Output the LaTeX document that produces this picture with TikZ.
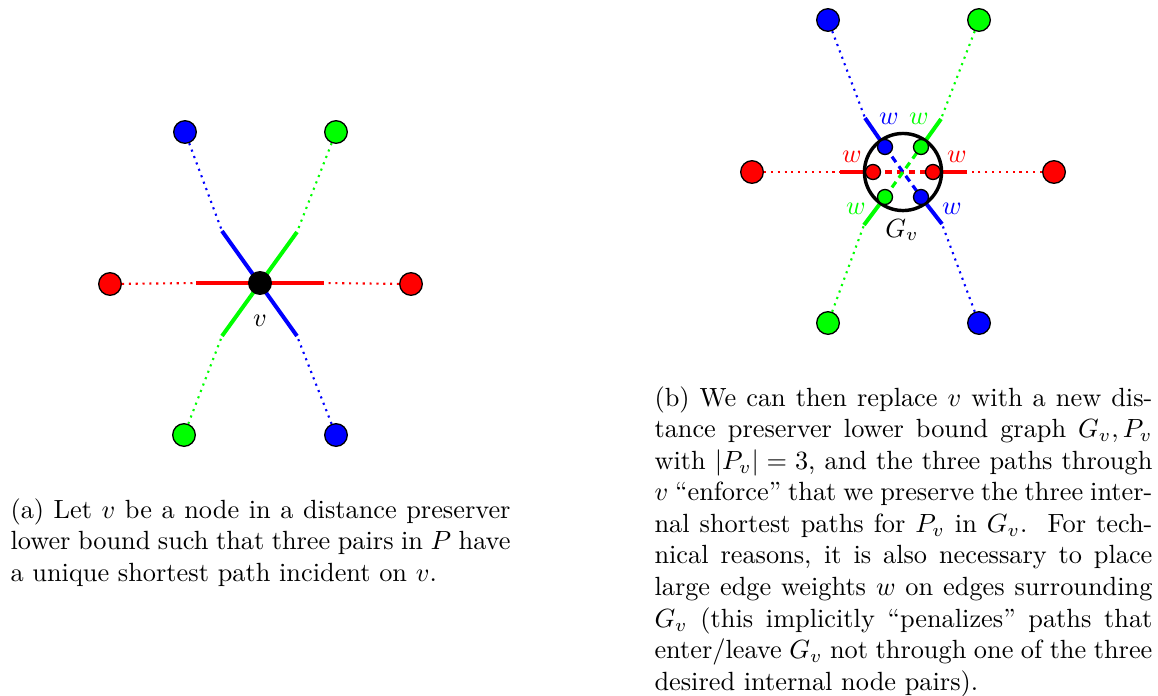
\documentclass[tikz,border=0pt]{standalone}
\usepackage{tikz}
\newlength\capwa
\newlength\capwb
\setlength\capwa{190pt}
\setlength\capwb{189.2pt}
\newcommand\jlinea[1]{\hbox to \capwa{#1}}
\newcommand\jlineb[1]{\hbox to \capwb{#1}}
\begin{document}
\begin{tikzpicture}[x=0.38pt,y=-0.38pt,
  pnode/.style={circle,draw=black,line width=0.5pt,minimum size=8.6pt,inner sep=0pt},
  inode/.style={circle,draw=black,line width=0.5pt,minimum size=5.7pt,inner sep=0pt},
  seg/.style={line width=1.5pt},
  dots/.style={line width=0.8pt,dash pattern=on 0.8pt off 1.8pt},
  dsh/.style={line width=1.2pt,dash pattern=on 2.6pt off 1.9pt},
  lbl/.style={inner sep=0pt,font=\normalsize},
  captext/.style={anchor=base west,inner sep=0pt,font=\normalsize}]
\useasboundingbox (0,0) rectangle (1158,695);

% ---------- (a) ----------
\coordinate (vc) at (260,283);
\coordinate (ar1) at (196,283);
\coordinate (ar2) at (324,283);
\coordinate (ab1) at (222,231);
\coordinate (ab2) at (297,336);
\coordinate (ag1) at (297,232);
\coordinate (ag2) at (222,336);
\node[pnode,fill=red]   (aRL) at (110,284) {};
\node[pnode,fill=red]   (aRR) at (411,284) {};
\node[pnode,fill=blue]  (aBT) at (185,132) {};
\node[pnode,fill=green] (aGT) at (336,132) {};
\node[pnode,fill=green] (aGB) at (184,435) {};
\node[pnode,fill=blue]  (aBB) at (336,435) {};
\draw[seg,red]   (ar1) -- (ar2);
\draw[seg,blue]  (ab1) -- (ab2);
\draw[seg,green] (ag1) -- (ag2);
\draw[dots,red]   (aRL) -- (ar1);
\draw[dots,red]   (aRR) -- (ar2);
\draw[dots,blue]  (aBT) -- (ab1);
\draw[dots,blue]  (aBB) -- (ab2);
\draw[dots,green] (aGT) -- (ag1);
\draw[dots,green] (aGB) -- (ag2);
\node[pnode,fill=black] (v) at (vc) {};
\node[lbl] (vl) at (260,321) {$v$};

% ---------- (b) ----------
\coordinate (c) at (903,172);
\coordinate (br1) at (840,172);
\coordinate (br2) at (967,172);
\coordinate (bb1) at (865,118);
\coordinate (bb2) at (942,224);
\coordinate (bg1) at (941,119);
\coordinate (bg2) at (864,225);
\node[pnode,fill=blue]  (bBT) at (828,20) {};
\node[pnode,fill=green] (bGT) at (979,20) {};
\node[pnode,fill=red]   (bRL) at (752,172) {};
\node[pnode,fill=red]   (bRR) at (1054,172) {};
\node[pnode,fill=green] (bGB) at (828,323) {};
\node[pnode,fill=blue]  (bBB) at (979,323) {};
\coordinate (iRL) at (873,172);
\coordinate (iRR) at (933,172);
\coordinate (iBT) at (885,147);
\coordinate (iGT) at (921,147);
\coordinate (iGB) at (885,197);
\coordinate (iBB) at (921,197);
\draw[dots,red]   (bRL) -- (br1);
\draw[dots,red]   (bRR) -- (br2);
\draw[dots,blue]  (bBT) -- (bb1);
\draw[dots,blue]  (bBB) -- (bb2);
\draw[dots,green] (bGT) -- (bg1);
\draw[dots,green] (bGB) -- (bg2);
\draw[seg,red]   (br1) -- (iRL);
\draw[seg,red]   (br2) -- (iRR);
\draw[seg,blue]  (bb1) -- (iBT);
\draw[seg,blue]  (bb2) -- (iBB);
\draw[seg,green] (bg1) -- (iGT);
\draw[seg,green] (bg2) -- (iGB);
\node[circle,draw=black,line width=1.3pt,minimum size=29.3pt,inner sep=0pt] (G) at (c) {};
\draw[dsh,red]   (iRL) -- (iRR);
\draw[dsh,blue]  (iBT) -- (iBB);
\draw[dsh,green] (iGB) -- (iGT);
\node[inode,fill=red]   (nRL) at (iRL) {};
\node[inode,fill=red]   (nRR) at (iRR) {};
\node[inode,fill=blue]  (nBT) at (iBT) {};
\node[inode,fill=green] (nGT) at (iGT) {};
\node[inode,fill=green] (nGB) at (iGB) {};
\node[inode,fill=blue]  (nBB) at (iBB) {};
\node[lbl,text=blue]  (w1) at (889,119) {$w$};
\node[lbl,text=green] (w2) at (919,119) {$w$};
\node[lbl,text=red]   (w3) at (852,157) {$w$};
\node[lbl,text=red]   (w4) at (957,157) {$w$};
\node[lbl,text=green] (w5) at (856,209) {$w$};
\node[lbl,text=blue]  (w6) at (952,209) {$w$};
\node[lbl] (Gv) at (902,230) {$G_v$};

% ---------- captions ----------
\node[captext] (capa) at (10,518) {\parbox[t]{\capwa}{%
\jlinea{(a) Let $v$ be a node in a distance preserver}
\jlinea{lower bound such that three pairs in $P$ have}
\hbox{a unique shortest path incident on $v$.}}};
\node[captext] (capb) at (654,406) {\parbox[t]{\capwb}{%
\jlineb{(b) We can then replace $v$ with a new dis-}
\jlineb{tance preserver lower bound graph $G_v, P_v$}
\jlineb{with $|P_v| = 3$, and the three paths through}
\jlineb{$v$ \textquotedblleft enforce\textquotedblright\ that we preserve the three inter-}
\jlineb{nal shortest paths for $P_v$ in $G_v$.\ \ For tech-}
\jlineb{nical reasons, it is also necessary to place}
\jlineb{large edge weights $w$ on edges surrounding}
\jlineb{$G_v$ (this implicitly \textquotedblleft penalizes\textquotedblright\ paths that}
\jlineb{enter/leave $G_v$ not through one of the three}
\hbox{desired internal node pairs).}}};
\end{tikzpicture}
\end{document}
